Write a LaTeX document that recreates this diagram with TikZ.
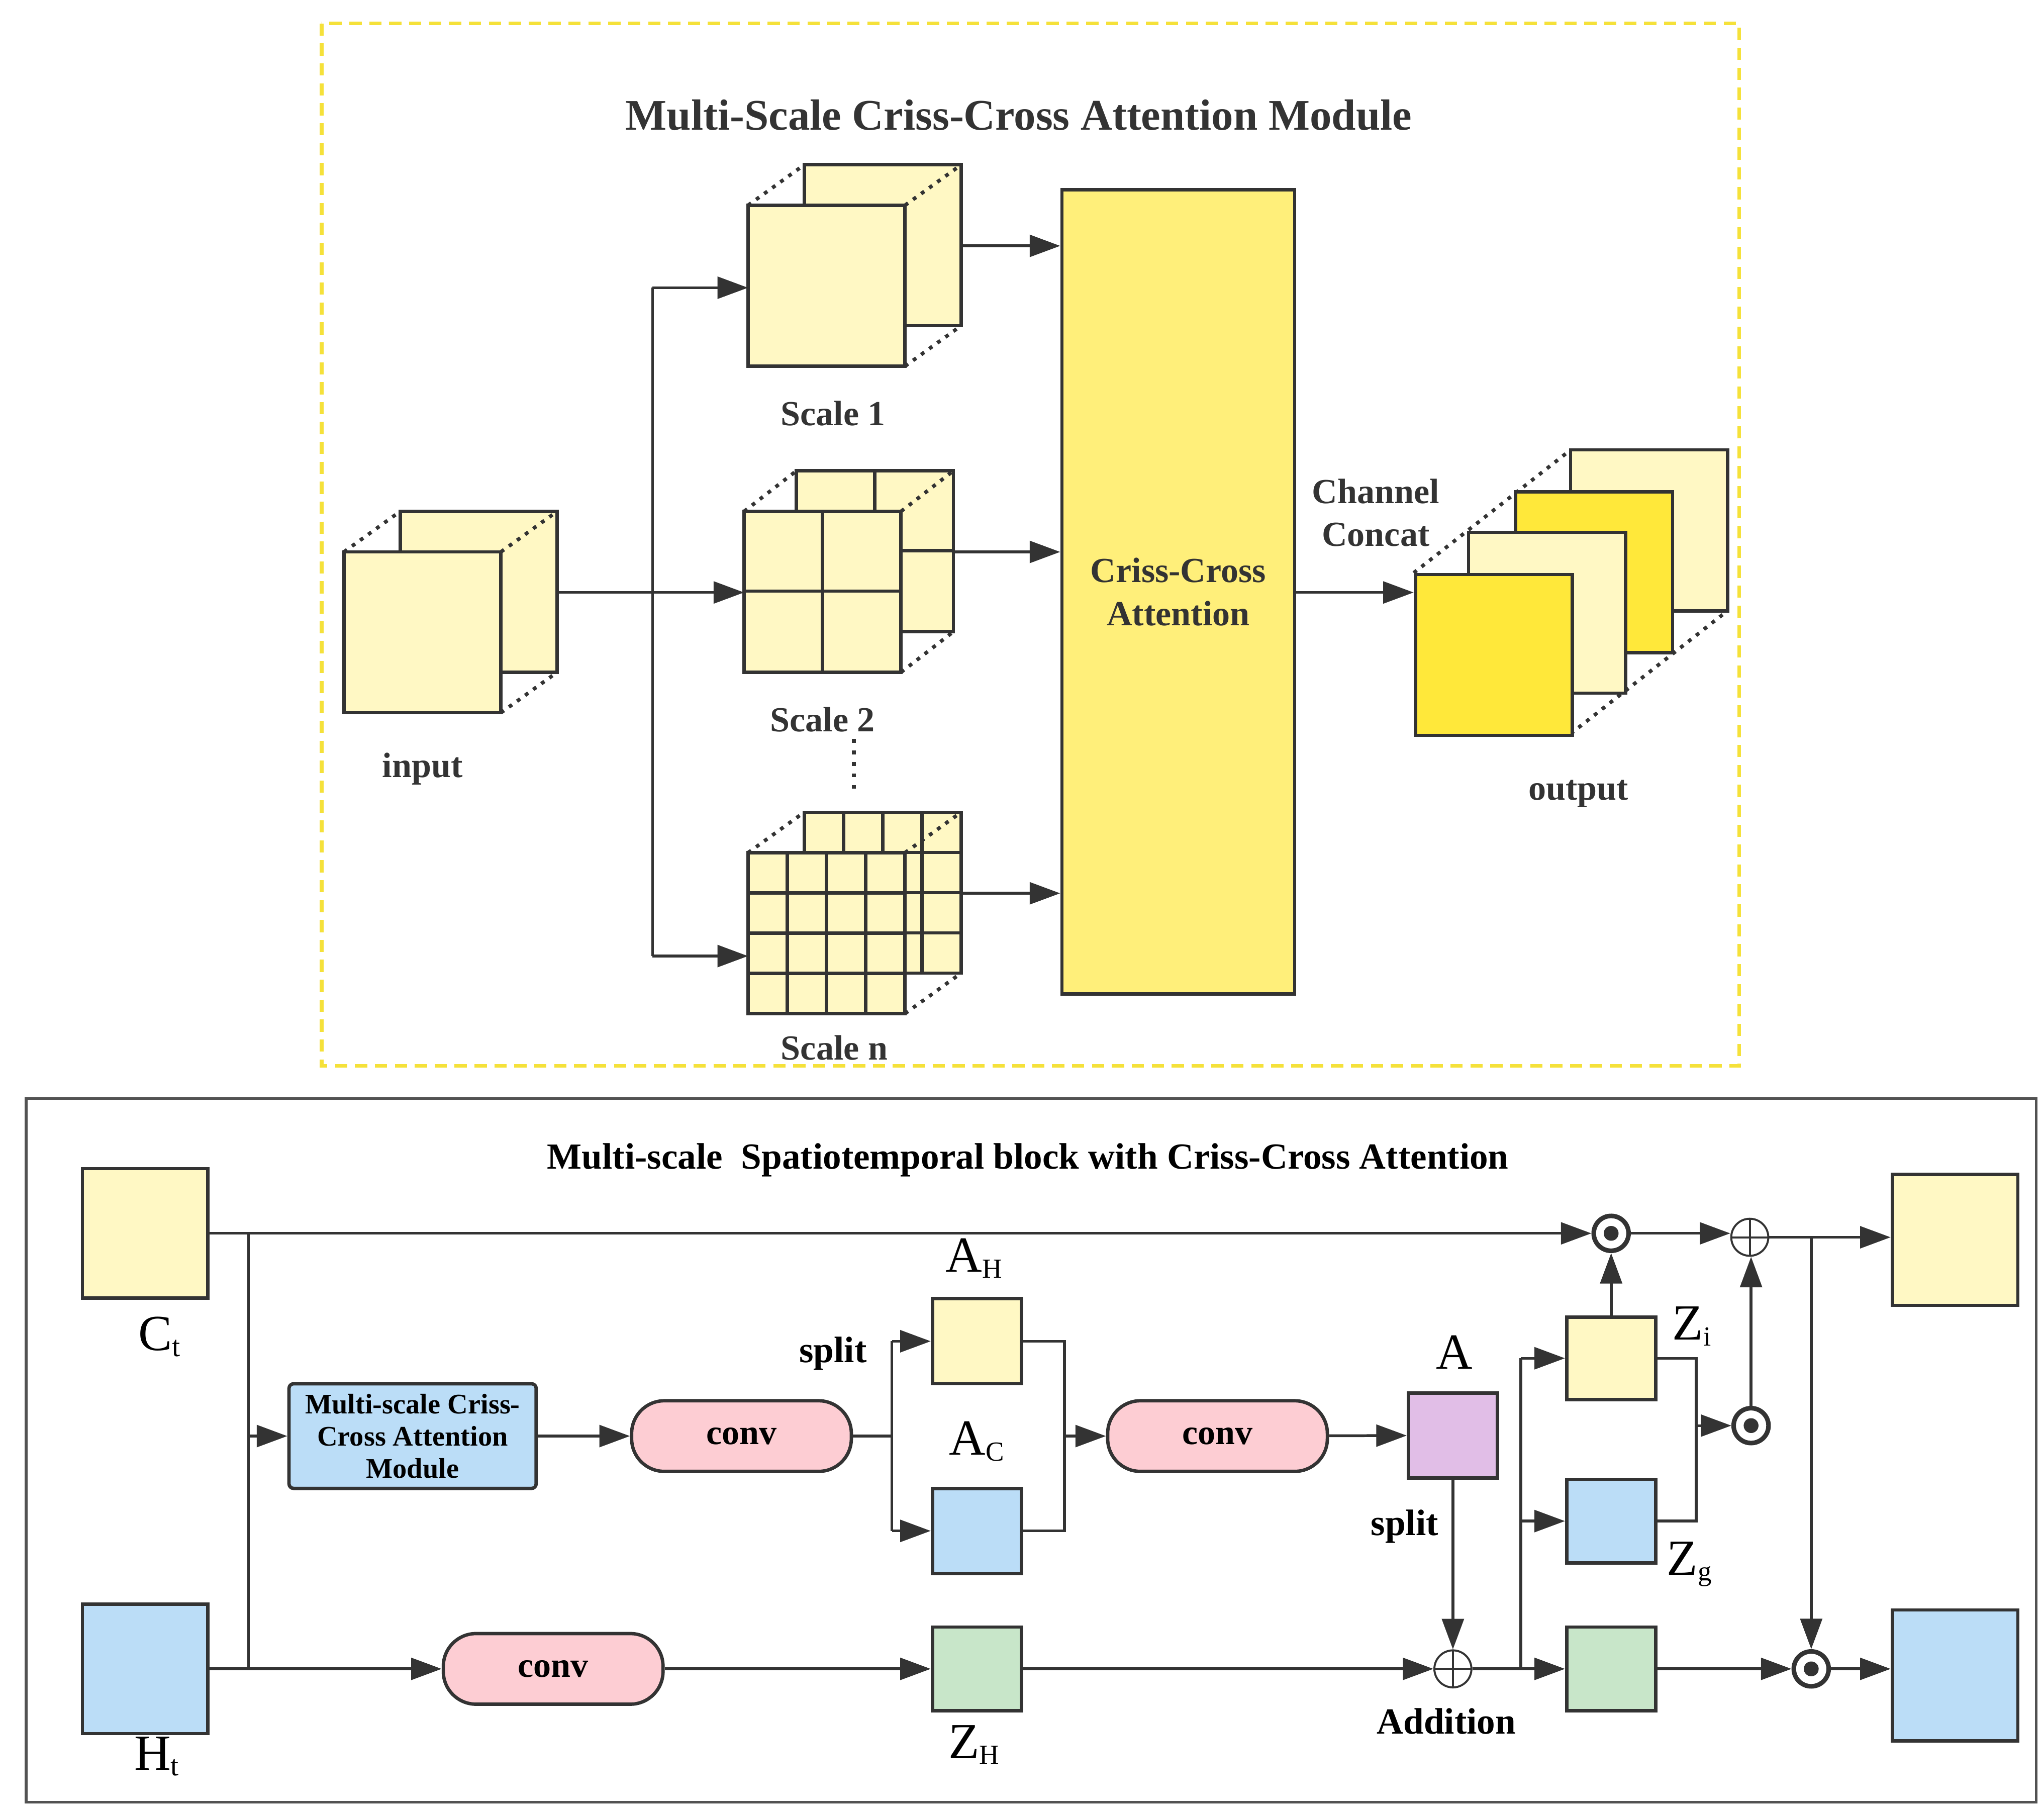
\documentclass[tikz,border=0pt]{standalone}
\usepackage{fontspec}
\setmainfont{Liberation Serif}
\usetikzlibrary{arrows.meta,calc}
\definecolor{linec}{HTML}{333333}
\definecolor{ly}{HTML}{FFF8C4}
\definecolor{by}{HTML}{FFE83A}
\definecolor{cy}{HTML}{FFEF7A}
\definecolor{bl}{HTML}{BBDDF7}
\definecolor{pk}{HTML}{FDCDD3}
\definecolor{gr}{HTML}{C8E6C9}
\definecolor{pu}{HTML}{E1BEE7}
\definecolor{dash}{HTML}{F5E13A}
\newcommand{\mycube}[6]{%
  \draw[box,fill=#5] (#1+#4,#2-31) rectangle ++(120,123);
  \draw[box,fill=#6] (#1,#2) rectangle ++(120,123);
  \draw[dotl] (#1,#2) -- ++(#4,-31);
  \draw[dotl] (#1+120,#2) -- ++(#4,-31);
  \draw[dotl] (#1+120,#2+123) -- ++(#4,-31);
}
\begin{document}
\begin{tikzpicture}[x=0.03cm,y=-0.03cm,
  box/.style={draw=linec,line width=2.2pt},
  dotl/.style={draw=linec,line width=2.4pt,dash pattern=on 2.5pt off 4pt},
  ln/.style={draw=linec,line width=1.8pt},
  arr/.style={ln,-{Triangle[length=0.7cm,width=0.5cm]}},
  wh/.style 2 args={minimum width={#1*0.03cm},minimum height={#2*0.03cm},inner sep=0pt},
  sq/.style={box,rectangle},
  cv/.style={box,rounded corners=0.75cm,fill=pk,wh={168}{54},font=\fontsize{23}{27}\selectfont\bfseries},
  lab/.style={text=linec,font=\fontsize{23}{28}\selectfont\bfseries,align=center},
  sym/.style={font=\fontsize{33}{38}\selectfont},
  odot/.style={circle,draw=linec,line width=3pt,fill=white,minimum size=0.8cm,inner sep=0pt,
     path picture={\fill[linec] (path picture bounding box.center) circle (0.17cm);}},
  oplus/.style={circle,draw=linec,line width=1.3pt,fill=white,minimum size=0.85cm,inner sep=0pt,
     path picture={\draw[linec,line width=1.3pt] (path picture bounding box.north) -- (path picture bounding box.south) (path picture bounding box.west) -- (path picture bounding box.east);}}
]
\useasboundingbox (0,0) rectangle (1563,1383);
% ---------------- top module ----------------
\draw[draw=dash,line width=2.4pt,dash pattern=on 8pt off 5pt] (246,18) rectangle (1330,815);
\node[text=linec,font=\fontsize{28.5}{32}\selectfont\bfseries] (t1) at (779,88) {Multi-Scale Criss-Cross Attention Module};
% input cube
\mycube{263}{422}{0}{43}{ly}{ly}
\node[lab] (linput) at (323,588) {input};
% scale 1
\mycube{572}{157}{0}{43}{ly}{ly}
\node[lab] (ls1) at (637,316) {Scale 1};
% scale 2
\draw[box,fill=ly] (609,360) rectangle ++(120,123);
\draw[box] (669,360) -- ++(0,123) (609,421) -- ++(120,0);
\draw[box,fill=ly] (569,391) rectangle ++(120,123);
\draw[box] (629,391) -- ++(0,123) (569,452) -- ++(120,0);
\draw[dotl] (569,391) -- ++(40,-31);
\draw[dotl] (689,391) -- ++(40,-31);
\draw[dotl] (689,514) -- ++(40,-31);
\node[lab] (ls2) at (629,550) {Scale 2};
\draw[linec,line width=2.4pt,dash pattern=on 2.5pt off 5pt] (653,565) -- (653,607);
% scale n
\draw[box,fill=ly] (615,621) rectangle ++(120,123);
\foreach \i in {1,2,3}{\draw[box] (615+30*\i,621) -- ++(0,123) (615,621+30.75*\i) -- ++(120,0);}
\draw[box,fill=ly] (572,652) rectangle ++(120,123);
\foreach \i in {1,2,3}{\draw[box] (572+30*\i,652) -- ++(0,123) (572,652+30.75*\i) -- ++(120,0);}
\draw[dotl] (572,652) -- ++(43,-31);
\draw[dotl] (692,652) -- ++(43,-31);
\draw[dotl] (692,775) -- ++(43,-31);
\node[lab] (lsn) at (638,801) {Scale n};
% CCA
\node[sq,fill=cy,wh={178}{615},lab] (cca) at (901,452.5) {Criss-Cross\\Attention};
% output stack
\draw[dotl] (1081,438) -- (1201,344);
\draw[dotl] (1201,438) -- (1321,344);
\draw[dotl] (1201,561) -- (1321,467);
\draw[box,fill=ly] (1201,344) rectangle ++(120,123);
\draw[box,fill=by] (1159,376) rectangle ++(120,123);
\draw[box,fill=ly] (1123,407) rectangle ++(120,123);
\node[sq,fill=by,wh={120}{123},anchor=north west] (outF) at (1081,438) {};
\node[lab] (lout) at (1207,607) {output};
\node[lab] (lcc) at (1052,392) {Channel\\Concat};
% top connectors
\coordinate (inR) at (426,453);
\coordinate (s2L) at (569,453);
\coordinate (bT) at (499,220);
\coordinate (bB) at (499,731);
\coordinate (s1L) at (572,220);
\coordinate (snL) at (572,731);
\coordinate (s1R) at (735,188);
\coordinate (s2R) at (729,422);
\coordinate (snR) at (735,683);
\draw[arr] (inR) -- (s2L);
\draw[ln] (bT) -- (bB);
\draw[arr] (bT) -- (s1L);
\draw[arr] (bB) -- (snL);
\draw[arr] (s1R) -- (s1R -| cca.west);
\draw[arr] (s2R) -- (s2R -| cca.west);
\draw[arr] (snR) -- (snR -| cca.west);
\draw[arr] (cca.east |- inR) -- (outF.west |- inR);
% ---------------- bottom block ----------------
\draw[draw=linec!85,line width=1.8pt] (20,840) rectangle (1557,1378);
\node[text=black,font=\fontsize{24}{28}\selectfont\bfseries] (t2) at (786,887) {Multi-scale\ \ Spatiotemporal block with Criss-Cross Attention};
\node[sq,fill=ly,wh={96}{99}] (ct) at (111,943) {};
\node[sq,fill=bl,wh={96}{99}] (ht) at (111,1276) {};
\node[sym] (lct) at (122,1022) {C\textsubscript{\fontsize{19}{21}\selectfont t}};
\node[sym] (lht) at (120,1343) {H\textsubscript{\fontsize{19}{21}\selectfont t}};
\node[sq,fill=bl,wh={189}{80},rounded corners=3pt,font=\fontsize{18.5}{21}\selectfont\bfseries,align=center] (ms) at (315.5,1098) {Multi-scale Criss-\\Cross Attention\\Module};
\node[cv] (cv1) at (567,1098) {conv};
\node[cv] (cv2) at (931,1098) {conv};
\node[cv] (cv3) at (423,1276) {conv};
\node[sq,fill=ly,wh={68}{65}] (ah) at (747,1025.5) {};
\node[sq,fill=bl,wh={68}{65}] (ac) at (747,1170.5) {};
\node[sq,fill=gr,wh={68}{64}] (zh) at (747,1276) {};
\node[sq,fill=pu,wh={68}{65}] (A) at (1111,1097.5) {};
\node[sq,fill=ly,wh={68}{63}] (zi) at (1232,1038.5) {};
\node[sq,fill=bl,wh={68}{64}] (zg) at (1232,1163) {};
\node[sq,fill=gr,wh={68}{64}] (zo) at (1232,1276) {};
\node[sq,fill=ly,wh={96}{100}] (co) at (1495,948) {};
\node[sq,fill=bl,wh={96}{100}] (ho) at (1495,1281) {};
\node[odot] (o1) at (1232,943) {};
\node[oplus] (p2) at (1338,946) {};
\node[odot] (o2) at (1339,1090) {};
\node[odot] (o3) at (1385,1276) {};
\node[oplus] (p1) at (1111,1276) {};
% labels
\node[sym] at (745,962) {A\textsubscript{\fontsize{18}{20}\selectfont H}};
\node[sym] at (747,1102) {A\textsubscript{\fontsize{18}{20}\selectfont C}};
\node[sym] at (745,1334) {Z\textsubscript{\fontsize{18}{20}\selectfont H}};
\node[sym] at (1112,1034) {A};
\node[sym] at (1294,1014) {Z\textsubscript{\fontsize{18}{20}\selectfont i}};
\node[sym] at (1292,1196) {Z\textsubscript{\fontsize{18}{20}\selectfont g}};
\node[lab,text=black,font=\fontsize{24}{28}\selectfont\bfseries] at (637,1035) {split};
\node[lab,text=black,font=\fontsize{24}{28}\selectfont\bfseries] at (1074,1167) {split};
\node[lab,text=black,font=\fontsize{24}{28}\selectfont\bfseries] at (1106,1316) {Addition};
% bottom connectors
\coordinate (v1) at (190,943);
\coordinate (v2) at (190,1276);
\coordinate (sp1) at (682,1098);
\coordinate (mg1) at (814,1098);
\coordinate (sp2) at (1163,1276);
\coordinate (mg2) at (1297,1090);
\coordinate (dn) at (1385,946);
\draw[arr] (ct) -- (o1);
\draw[ln] (v1) -- (v2);
\draw[ln] (ht) -- (v2);
\draw[arr] (v2) -- (cv3);
\draw[arr] (v1 |- ms) -- (ms);
\draw[arr] (ms) -- (cv1);
\draw[ln] (cv1) -- (sp1);
\draw[ln] (sp1 |- ah) -- (sp1 |- ac);
\draw[arr] (sp1 |- ah) -- (ah);
\draw[arr] (sp1 |- ac) -- (ac);
\draw[ln] (ah) -- (mg1 |- ah) -- (mg1 |- ac) -- (ac);
\draw[arr] (mg1) -- (cv2);
\draw[arr] (cv2) -- (A);
\draw[arr] (cv3) -- (zh);
\draw[arr] (zh) -- (p1);
\draw[arr] (A) -- (p1);
\draw[ln] (p1) -- (sp2);
\draw[ln] (sp2 |- zi) -- (sp2);
\draw[arr] (sp2 |- zi) -- (zi);
\draw[arr] (sp2 |- zg) -- (zg);
\draw[arr] (sp2) -- (zo);
\draw[arr] (zi) -- (o1);
\draw[arr] (o1.east) -- (p2.west |- o1);
\draw[ln] (zi) -- (mg2 |- zi) -- (mg2 |- zg) -- (zg);
\draw[arr] (mg2) -- (o2);
\draw[arr] (o2) -- (o2 |- p2.south);
\draw[arr] (p2) -- (p2 -| co.west);
\draw[arr] (dn) -- (o3);
\draw[arr] (zo) -- (o3);
\draw[arr] (o3) -- (o3 -| ho.west);
\end{tikzpicture}
\end{document}
